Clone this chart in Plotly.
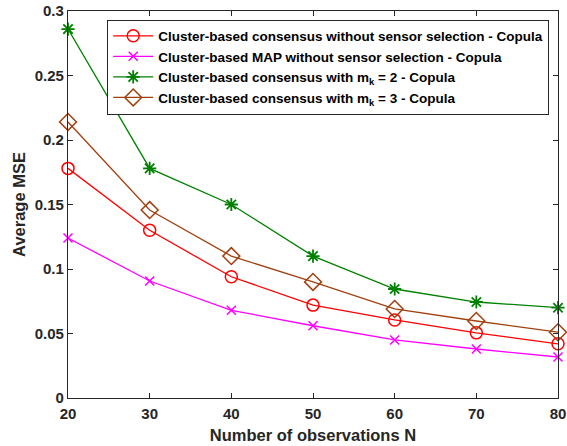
import plotly.graph_objects as go

N = [20, 30, 40, 50, 60, 70, 80]
consensus_no_sel = [0.178, 0.130, 0.094, 0.072, 0.0605, 0.0505, 0.042]
map_no_sel = [0.124, 0.0907, 0.068, 0.056, 0.045, 0.038, 0.0318]
consensus_m2 = [0.286, 0.178, 0.150, 0.110, 0.0845, 0.0744, 0.070]
consensus_m3 = [0.214, 0.1457, 0.110, 0.090, 0.069, 0.0597, 0.051]

names = [
    "Cluster-based consensus without sensor selection - Copula",
    "Cluster-based MAP without sensor selection - Copula",
    "Cluster-based consensus with m<sub>k</sub> = 2 - Copula",
    "Cluster-based consensus with m<sub>k</sub> = 3 - Copula",
]

fig = go.Figure()
fig.add_trace(go.Scatter(x=N, y=consensus_no_sel, name=names[0], mode="lines+markers", cliponaxis=False,
                         line=dict(color="#FF0000", width=1.3),
                         marker=dict(symbol="circle-open", size=12, color="#FF0000", line=dict(width=1.5))))
fig.add_trace(go.Scatter(x=N, y=map_no_sel, name=names[1], mode="lines+markers", cliponaxis=False,
                         line=dict(color="#FF00FF", width=1.3),
                         marker=dict(symbol="x-thin-open", size=9, color="#FF00FF", line=dict(width=1.5))))
fig.add_trace(go.Scatter(x=N, y=consensus_m2, name=names[2], mode="lines+markers", cliponaxis=False,
                         line=dict(color="#008000", width=1.3),
                         marker=dict(symbol="asterisk-open", size=11, color="#008000", line=dict(width=1.8))))
fig.add_trace(go.Scatter(x=N, y=consensus_m3, name=names[3], mode="lines+markers", cliponaxis=False,
                         line=dict(color="#A0400F", width=1.3),
                         marker=dict(symbol="diamond-open", size=13, color="#A0400F", line=dict(width=1.5))))

FONT = "Liberation Sans, Arial"
axis_common = dict(
    showline=True, mirror="ticks", linecolor="#262626", linewidth=1.3,
    ticks="inside", ticklen=5, tickcolor="#262626", tickwidth=1,
    showgrid=False, zeroline=False, automargin=False,
    tickfont=dict(family=FONT, size=15, color="#262626", weight="bold"),
)

fig.update_layout(
    width=567, height=446,
    margin=dict(l=68, r=9, t=11, b=48),
    paper_bgcolor="white", plot_bgcolor="white",
    font=dict(family=FONT, color="#262626"),
    xaxis=dict(range=[20, 80], tickvals=[20, 30, 40, 50, 60, 70, 80],
               ticklabelstandoff=2,
               title=dict(text="Number of observations N", standoff=8,
                          font=dict(family=FONT, size=16.5, color="#262626", weight="bold")),
               **axis_common),
    yaxis=dict(range=[0, 0.3], tickvals=[0, 0.05, 0.1, 0.15, 0.2, 0.25, 0.3],
               ticktext=["0", "0.05", "0.1", "0.15", "0.2", "0.25", "0.3"],
               title=dict(text="Average MSE", standoff=4,
                          font=dict(family=FONT, size=16.5, color="#262626", weight="bold")),
               **axis_common),
    legend=dict(x=0.08, y=0.978, xanchor="left", yanchor="top",
                bgcolor="white", bordercolor="#262626", borderwidth=1,
                font=dict(family=FONT, size=13.5, color="black", weight="bold"),
                itemwidth=40, tracegroupgap=0),
    showlegend=True,
)

fig.write_html("out.html", config={"displayModeBar": False},
               post_script="document.body.style.margin='0';document.body.style.overflow='hidden';")
